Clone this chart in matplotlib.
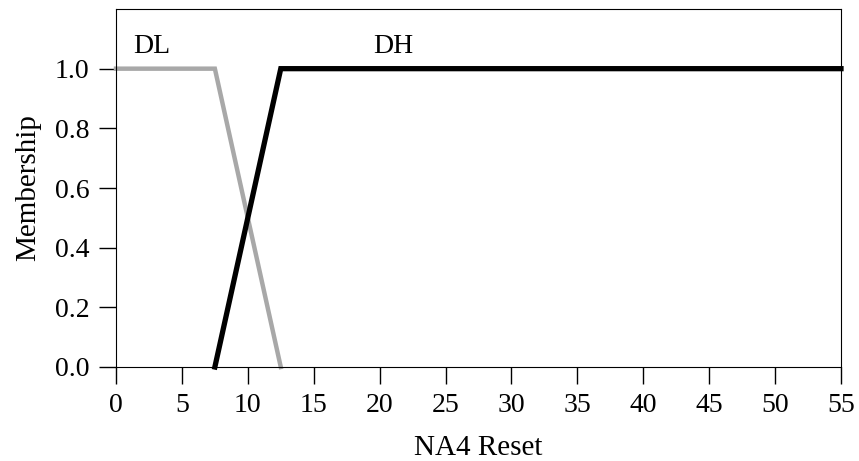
import matplotlib.pyplot as plt

# membership function breakpoints
dl_x = [0, 7.5, 12.5]
dl_y = [1.0, 1.0, 0.0]
dh_x = [7.5, 12.5, 55]
dh_y = [0.0, 1.0, 1.0]

x_ticks = list(range(0, 56, 5))
y_ticks = [0.0, 0.2, 0.4, 0.6, 0.8, 1.0]

plt.rcParams['font.family'] = ['Liberation Serif', 'DejaVu Serif']

fig = plt.figure(figsize=(8.59, 4.61), dpi=100)
ax = fig.add_axes([116 / 859, 1 - 367 / 461, 725 / 859, 358 / 461])

ax.plot(dl_x, dl_y, color="#a8a8a8", lw=3.2, solid_joinstyle="miter", clip_on=False)
ax.plot(dh_x, dh_y, color="black", lw=3.8, solid_joinstyle="miter", clip_on=False)

ax.text(1.3, 1.075, "DL", fontsize=20, va="center", ha="left")
ax.text(19.5, 1.075, "DH", fontsize=20, va="center", ha="left")

ax.set_xlim(0, 55)
ax.set_ylim(0, 1.2)
ax.set_xticks(x_ticks)
ax.set_yticks(y_ticks)
ax.set_yticklabels([f"{v:.1f}" for v in y_ticks])
ax.tick_params(direction="out", length=12, width=1, labelsize=20, pad=7)
ax.set_xlabel("NA4 Reset", fontsize=21, labelpad=12)
ax.set_ylabel("Membership", fontsize=21, labelpad=10)

fig.savefig("out.png")
